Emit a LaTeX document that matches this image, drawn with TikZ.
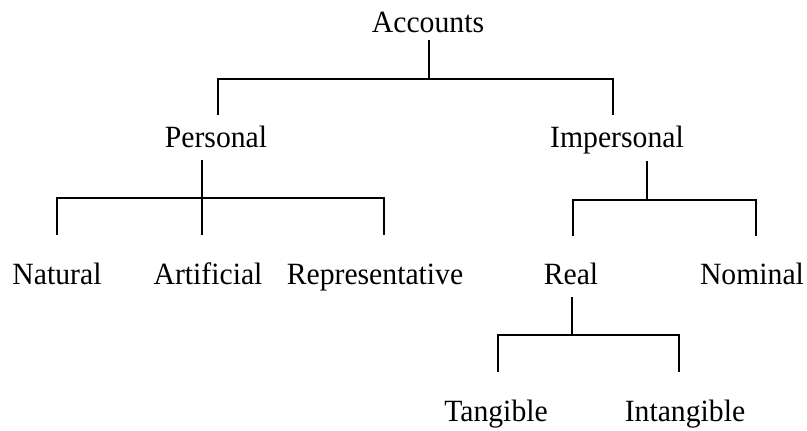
\documentclass[tikz,border=0pt]{standalone}
\usepackage{fontspec}
\setmainfont{Liberation Serif}[FakeStretch=0.96]
\usetikzlibrary{%
   calc,%
   positioning}

\begin{document}
\begin{tikzpicture}
[x=0.75pt, y=-0.75pt,
 typeL/.style={inner sep=0pt,anchor=base,font=\fontsize{23.2}{27}\selectfont},
 link/.style={line width=1.6pt,line join=miter},
 hv path/.style={link, to path={-| (\tikztotarget)}},
 vh path/.style={link, to path={|- (\tikztotarget)}}]
\useasboundingbox (0,0) rectangle (807,430);
% labels
\node[typeL] (A)    at (428, 32) {Accounts};
\node[typeL] (P)    at (216,147) {Personal};
\node[typeL] (I)    at (617,147) {Impersonal};
\node[typeL] (P1)   at ( 57,284) {Natural};
\node[typeL] (P2)   at (208,284) {Artificial};
\node[typeL] (P3)   at (375,284) {Representative};
\node[typeL] (I1)   at (571,284) {Real};
\node[typeL] (I2)   at (752,284) {Nominal};
\node[typeL] (R1)   at (496,421) {Tangible};
\node[typeL] (R2)   at (685,421) {Intangible};
% line ends
\coordinate (Aout)  at (429, 40);
\coordinate (Abus)  at (429, 79);
\coordinate (Pin)   at (218,115);
\coordinate (Iin)   at (613,115);
\coordinate (Pout)  at (202,160);
\coordinate (Pbus)  at (202,198);
\coordinate (P1in)  at ( 57,235);
\coordinate (P2in)  at (202,235);
\coordinate (P3in)  at (384,235);
\coordinate (Iout)  at (647,161);
\coordinate (Ibus)  at (647,200);
\coordinate (I1in)  at (573,236);
\coordinate (I2in)  at (756,236);
\coordinate (Rout)  at (572,297);
\coordinate (Rbus)  at (572,335);
\coordinate (R1in)  at (498,372);
\coordinate (R2in)  at (679,372);
\path (Aout)  edge[link]    (Abus)
      (Abus)  edge[hv path] (Pin)
              edge[hv path] (Iin)
      (Pout)  edge[link]    (P2in)
      (Pbus)  edge[hv path] (P1in)
              edge[hv path] (P3in)
      (Iout)  edge[link]    (Ibus)
      (Ibus)  edge[hv path] (I1in)
              edge[hv path] (I2in)
      (Rout)  edge[link]    (Rbus)
      (Rbus)  edge[hv path] (R1in)
              edge[hv path] (R2in);
\end{tikzpicture}
\end{document}
